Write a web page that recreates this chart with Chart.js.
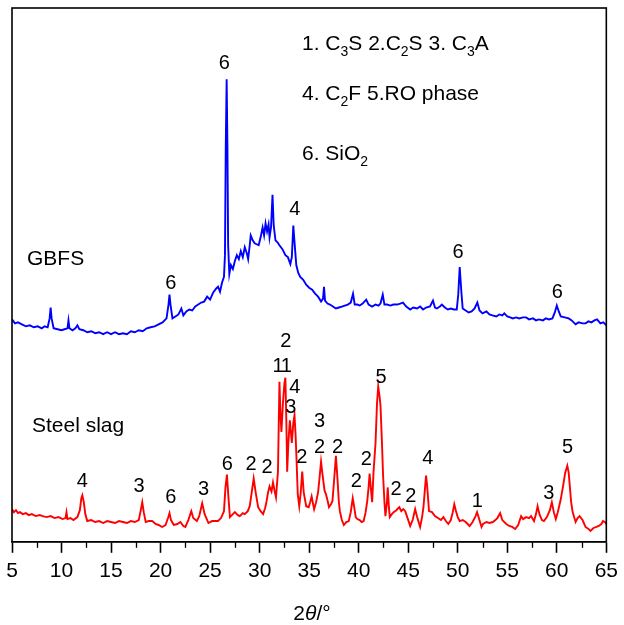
<!DOCTYPE html>
<html><head><meta charset="utf-8">
<script src="https://cdn.jsdelivr.net/npm/chart.js@4/dist/chart.umd.min.js"></script>
<style>html,body{margin:0;padding:0;background:#fff}</style>
</head><body>
<canvas id="c" width="624" height="625"></canvas>
<script>
// ---- data (2θ in degrees, intensity in arbitrary units) ----
const gbfsAngle = [5.0,5.3,5.6,6.0,6.4,6.8,7.2,7.6,8.0,8.3,8.6,8.8,8.9,9.0,9.2,9.6,10.0,10.3,10.6,10.7,10.8,11.1,11.4,11.6,11.8,12.2,12.6,13.0,13.4,13.8,14.2,14.6,15.0,15.4,15.8,16.2,16.6,17.0,17.4,17.8,18.2,18.6,19.0,19.4,19.8,20.2,20.6,20.8,20.9,21.0,21.2,21.5,21.8,22.1,22.3,22.6,22.9,23.2,23.5,23.8,24.1,24.4,24.7,25.0,25.3,25.6,25.8,26.0,26.2,26.4,26.5,26.58,26.67,26.75,26.82,26.94,27.1,27.3,27.5,27.7,27.9,28.1,28.3,28.5,28.7,28.84,29.0,29.1,29.3,29.5,29.7,29.9,30.1,30.3,30.45,30.6,30.75,30.9,31.0,31.15,31.3,31.42,31.6,31.8,32.0,32.3,32.6,32.85,33.1,33.25,33.4,33.5,33.7,33.9,34.1,34.4,34.7,35.0,35.3,35.6,35.9,36.2,36.4,36.5,36.6,36.85,37.1,37.4,37.7,38.0,38.3,38.6,38.9,39.2,39.43,39.6,39.86,40.1,40.4,40.76,41.0,41.36,41.7,42.0,42.2,42.43,42.6,42.86,43.2,43.5,43.87,44.2,44.47,44.8,45.2,45.5,45.9,46.2,46.5,46.8,47.2,47.5,47.7,47.9,48.2,48.4,48.7,49.0,49.3,49.6,49.9,50.05,50.2,50.35,50.5,50.8,51.1,51.4,51.7,51.98,52.2,52.5,52.9,53.2,53.5,53.9,54.2,54.5,54.7,55.0,55.3,55.55,55.9,56.2,56.6,56.9,57.2,57.6,57.9,58.2,58.6,58.9,59.2,59.56,59.8,60.0,60.2,60.4,60.8,61.2,61.5,61.9,62.2,62.6,62.9,63.2,63.5,63.8,64.07,64.4,64.7,65.0];
const gbfsIntensity = [225,221,222,220,218,219,217,218,216,218,217,226,237,226,216,215,214,215,216,224,216,214,216,219,215,214,212,213,211,212,210,212,210,212,210,211,210,213,212,214,213,216,217,218,220,222,226,240,250,240,226,228,230,236,229,233,235,234,238,240,242,243,248,245,252,256,258,253,262,268,290,400,468,400,300,271,280,276,284,290,286,294,288,298,292,286,300,310,305,302,301,300,308,318,310,322,314,321,308,318,351,320,305,303,300,296,290,288,281,288,320,306,280,272,268,265,260,257,255,251,248,243,246,258,244,241,240,238,236,237,238,239,240,242,251,240,240,239,241,245,240,238,240,239,241,250,240,240,239,240,240,241,242,238,235,237,236,238,235,237,238,244,237,236,238,240,237,235,236,235,235,250,278,255,236,234,232,233,236,242,234,231,233,230,229,228,230,229,231,228,227,226,227,226,227,227,225,226,224,225,224,226,225,226,232,239,233,228,227,226,224,220,222,221,221,223,222,224,225,221,222,219];

const slagAngle = [5.0,5.2,5.4,5.6,5.8,6.1,6.4,6.7,7.0,7.4,7.8,8.1,8.5,8.9,9.3,9.7,10.1,10.4,10.5,10.6,10.9,11.2,11.6,11.85,12.0,12.1,12.25,12.4,12.6,13.0,13.4,13.8,14.2,14.6,15.0,15.4,15.8,16.2,16.6,17.0,17.4,17.8,18.0,18.15,18.3,18.5,18.8,19.15,19.5,19.8,20.15,20.5,20.75,20.9,21.05,21.33,21.7,22.0,22.3,22.5,22.8,23.1,23.3,23.66,23.9,24.2,24.45,24.83,25.2,25.6,25.8,26.1,26.4,26.55,26.7,26.85,27.0,27.3,27.5,27.8,28.0,28.3,28.5,28.8,29.0,29.2,29.4,29.6,29.85,30.1,30.35,30.55,30.7,30.85,31.0,31.2,31.35,31.5,31.65,31.85,32.0,32.1,32.2,32.35,32.5,32.6,32.7,32.78,32.9,33.05,33.15,33.25,33.4,33.52,33.62,33.7,33.85,34.0,34.15,34.3,34.45,34.7,34.95,35.1,35.25,35.4,35.5,35.7,35.9,36.05,36.2,36.35,36.55,36.7,36.85,37.0,37.2,37.35,37.5,37.7,37.85,38.0,38.1,38.3,38.5,38.75,39.0,39.2,39.4,39.55,39.7,39.86,40.1,40.3,40.5,40.7,40.86,41.0,41.1,41.25,41.36,41.5,41.7,41.85,41.97,42.1,42.2,42.35,42.46,42.6,42.7,42.85,42.93,43.05,43.14,43.35,43.53,43.8,44.1,44.3,44.5,44.7,44.9,45.2,45.45,45.7,45.9,46.2,46.4,46.54,46.7,46.8,46.9,47.1,47.4,47.7,48.0,48.3,48.55,48.8,49.05,49.3,49.5,49.65,49.8,50.0,50.2,50.5,50.8,51.2,51.5,51.8,51.95,52.1,52.4,52.55,52.9,53.2,53.55,53.8,54.0,54.28,54.5,54.9,55.2,55.5,55.8,56.1,56.4,56.6,56.9,57.2,57.4,57.7,57.9,58.06,58.25,58.5,58.7,59.0,59.3,59.5,59.7,59.9,60.1,60.4,60.66,60.85,61.06,61.2,61.3,61.45,61.6,61.9,62.1,62.3,62.6,62.9,63.2,63.4,63.7,64.0,64.24,64.5,64.66,64.85,65.0];
const slagIntensity = [33,30,32,29,30,28,29,27,28,26,27,26,25,26,24,25,23,24,30,23,24,22,25,32,44,47,40,28,21,22,20,21,19,21,20,19,21,20,19,21,20,22,32,40,30,20,21,21,18,17,15,17,24,29,22,17,18,20,16,15,22,31,24,21,26,39,28,19,21,21,21,24,31,55,68,45,25,28,30,27,26,29,28,31,36,50,64,50,35,31,28,34,41,50,56,51,60,52,45,71,162,130,111,140,160,166,120,71,100,123,112,100,120,128,110,90,48,36,50,71,50,36,35,40,46,38,33,40,50,65,81,68,52,48,42,35,38,41,60,87,65,40,31,22,17,20,21,30,44,35,25,23,22,20,21,30,41,55,69,52,40,71,100,140,157,148,138,100,68,40,26,40,55,35,25,28,30,32,35,31,33,31,25,16,22,33,25,15,25,35,55,67,58,31,30,26,24,22,25,21,18,22,30,38,32,25,21,22,20,16,20,26,30,25,15,18,20,19,20,22,24,29,22,18,16,15,13,17,26,23,25,24,26,21,28,36,28,22,21,25,32,40,30,23,30,43,58,70,77,70,58,40,30,20,24,26,22,15,13,11,14,15,16,18,21,20,18];

const xTickValues = [5,10,15,20,25,30,35,40,45,50,55,60,65];
const seriesNames = ['GBFS','Steel slag'];
// peak phase labels: [2θ, intensity, label]
const gbfsPeakLabels = [[21.03,261,'6'],[26.44,484,'6'],[33.55,336,'4'],[50.03,293,'6'],[60.04,252,'6']];
const slagPeakLabels = [[12.11,61,'4'],[17.82,56,'3'],[21.03,45,'6'],[24.33,53,'3'],[26.74,78,'6'],[29.14,78,'2'],[30.74,75,'2'],[31.85,177,'1'],[32.7,177,'1'],[32.65,203,'2'],[33.55,156,'4'],[33.15,136,'3'],[34.25,85,'2'],[36.05,122,'3'],[36.05,95,'2'],[37.86,95,'2'],[39.76,61,'2'],[40.76,83,'2'],[42.26,166,'5'],[43.77,53,'2'],[45.27,46,'2'],[46.97,84,'4'],[51.98,41,'1'],[59.19,49,'3'],[61.09,95,'5']];
const legendLines = [
  [['1. C',0],['3',1],['S 2.C',0],['2',1],['S 3. C',0],['3',1],['A',0]],
  [['4. C',0],['2',1],['F 5.RO phase',0]],
  [['6. SiO',0],['2',1]]
];

const FONT = '"Liberation Sans", Arial, Helvetica, sans-serif';

function pts(a, b){ return a.map((x,i)=>({x:x, y:b[i]})); }

const annot = {
  id:'annot',
  afterDraw(chart){
    const ctx = chart.ctx, ca = chart.chartArea, xs = chart.scales.x, ys = chart.scales.y;
    ctx.save();
    // frame
    ctx.strokeStyle = '#000'; ctx.lineWidth = 1.6;
    ctx.strokeRect(ca.left, ca.top, ca.right-ca.left, ca.bottom-ca.top);
    // minor ticks
    ctx.lineWidth = 1.3;
    for (let v = 7.5; v < 65; v += 5){
      const px = Math.round(xs.getPixelForValue(v))+0.5;
      ctx.beginPath(); ctx.moveTo(px, ca.bottom); ctx.lineTo(px, ca.bottom+6); ctx.stroke();
    }
    ctx.fillStyle = '#000';
    // peak labels
    ctx.font = '20px ' + FONT; ctx.textAlign = 'center'; ctx.textBaseline = 'middle';
    for (const [a,h,t] of gbfsPeakLabels.concat(slagPeakLabels)){
      ctx.fillText(t, xs.getPixelForValue(a), ys.getPixelForValue(h));
    }
    // series names
    ctx.textAlign = 'left'; ctx.textBaseline = 'alphabetic';
    ctx.font = '21px ' + FONT;
    ctx.fillText(seriesNames[0], 27, 265);
    ctx.fillText(seriesNames[1], 32, 432);
    // legend lines
    const bases = [50, 100, 160];
    legendLines.forEach((segs, i)=>{
      let x = 302;
      for (const [t, sub] of segs){
        ctx.font = (sub ? '14px ' : '21px ') + FONT;
        ctx.fillText(t, x, bases[i] + (sub ? 6 : 0));
        x += ctx.measureText(t).width;
      }
    });
    // axis title 2θ/°
    const parts = [['2','21px '],['θ','italic 21px '],['/°','21px ']];
    let w = 0;
    for (const [t,f] of parts){ ctx.font = f + FONT; w += ctx.measureText(t).width; }
    let x = 312 - w/2;
    for (const [t,f] of parts){ ctx.font = f + FONT; ctx.fillText(t, x, 620); x += ctx.measureText(t).width; }
    ctx.restore();
  }
};

new Chart(document.getElementById('c'), {
  type:'line',
  data:{ datasets:[
    {label:seriesNames[0], data:pts(gbfsAngle,gbfsIntensity), borderColor:'#0000ff', borderWidth:1.9, pointRadius:0, tension:0, fill:false},
    {label:seriesNames[1], data:pts(slagAngle,slagIntensity), borderColor:'#ff0000', borderWidth:1.9, pointRadius:0, tension:0, fill:false}
  ]},
  options:{
    responsive:false, animation:false, devicePixelRatio:1,
    layout:{padding:{left:12,right:13,top:8,bottom:35}},
    plugins:{legend:{display:false}, tooltip:{enabled:false}},
    scales:{
      x:{type:'linear', min:5, max:65,
        afterBuildTicks(s){ s.ticks = xTickValues.map(v=>({value:v})); },
        ticks:{autoSkip:false, maxRotation:0, padding:6, color:'#000', font:{family:FONT, size:21}},
        grid:{drawOnChartArea:false, drawTicks:true, tickLength:11, tickColor:'#000', tickWidth:1.6},
        border:{display:true, color:'#000', width:1.6}
      },
      y:{display:false, min:0, max:540}
    }
  },
  plugins:[annot]
});
</script>
</body></html>
